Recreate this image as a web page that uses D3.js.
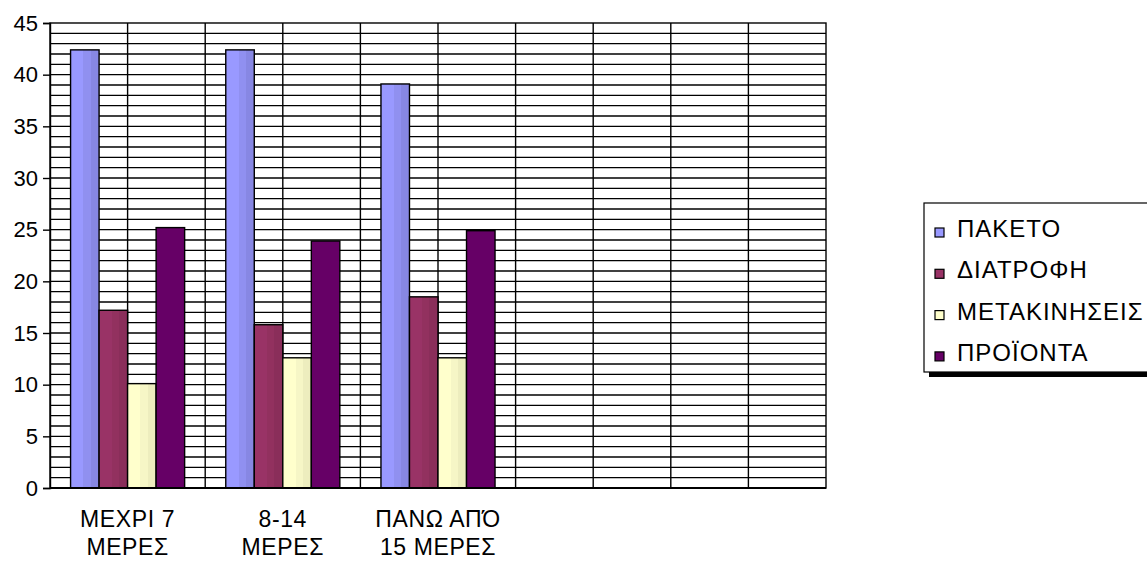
<!DOCTYPE html>
<html>
<head>
<meta charset="utf-8">
<script src="https://cdn.jsdelivr.net/npm/d3@7"></script>
<style>
  body { margin: 0; background: #fff; }
  svg { display: block; font-family: "Liberation Sans", Arial, sans-serif; }
</style>
</head>
<body>
<div id="chart-container"></div>
<script>
// Data
const categories = [["ΜΕΧΡΙ 7", "ΜΕΡΕΣ"], ["8-14", "ΜΕΡΕΣ"], ["ΠΑΝΩ ΑΠΌ", "15 ΜΕΡΕΣ"], [], []];
const seriesNames = ["ΠΑΚΕΤΟ", "ΔΙΑΤΡΟΦΗ", "ΜΕΤΑΚΙΝΗΣΕΙΣ", "ΠΡΟΪΟΝΤΑ"];
const paketo      = [42.4, 42.4, 39.1];
const diatrofi    = [17.2, 15.8, 18.5];
const metakiniseis = [10.1, 12.6, 12.6];
const proionta    = [25.2, 23.9, 24.9];
const yTicks = [0, 5, 10, 15, 20, 25, 30, 35, 40, 45];

const series = [paketo, diatrofi, metakiniseis, proionta];
const colors = [
  ["#9999ff", "#9090f0", "#8787e3"],
  ["#993366", "#92315f", "#8a2e5a"],
  ["#ffffcc", "#f6f6c6", "#ededbe"],
  ["#660066", "#660066", "#660066"]
];

// Set dimensions and margins for the chart
const margin = {top: 23, right: 321, bottom: 73, left: 50};
const width = 1147 - margin.left - margin.right;
const height = 561 - margin.top - margin.bottom;

const svg = d3.select("#chart-container")
  .append("svg")
    .attr("width", 1147)
    .attr("height", 561);

// gradients for the shaded bars
const defs = svg.append("defs");
colors.forEach((c, i) => {
  const g = defs.append("linearGradient").attr("id", "grad" + i)
    .attr("x1", "0%").attr("x2", "100%").attr("y1", "0%").attr("y2", "0%");
  [[0, c[0]], [0.45, c[0]], [0.45, c[1]], [0.7, c[1]], [0.7, c[2]], [1, c[2]]]
    .forEach(s => g.append("stop").attr("offset", s[0]).attr("stop-color", s[1]));
});

const plot = svg.append("g")
  .attr("transform", `translate(${margin.left},${margin.top})`);

// scales
const x0 = d3.scaleBand()
  .domain(d3.range(categories.length))
  .range([0, width])
  .paddingInner(0.265)
  .paddingOuter(0.1325);

const x1 = d3.scaleBand()
  .domain(d3.range(series.length))
  .range([0, x0.bandwidth()]);

const xGrid = d3.scaleLinear()
  .domain([0, categories.length])
  .range([0, width]);

const y = d3.scaleLinear()
  .domain([0, 45])
  .range([height, 0]);

// horizontal gridlines every 1
plot.selectAll(".yGrid")
  .data(d3.range(1, 45))
  .join("line")
  .attr("x1", 0).attr("x2", width)
  .attr("y1", d => y(d)).attr("y2", d => y(d))
  .attr("stroke", "#000")
  .attr("stroke-width", 1.4);

// vertical gridlines every half category
plot.selectAll(".xGrid")
  .data(d3.range(0.5, categories.length, 0.5))
  .join("line")
  .attr("x1", d => xGrid(d)).attr("x2", d => xGrid(d))
  .attr("y1", 0).attr("y2", height)
  .attr("stroke", "#000")
  .attr("stroke-width", 1.4);

// border of plot area
plot.append("rect")
  .attr("width", width).attr("height", height)
  .attr("fill", "none")
  .attr("stroke", "#000")
  .attr("stroke-width", 1.4);

// bars
const groups = plot.selectAll(".group")
  .data(d3.range(paketo.length))
  .join("g")
  .attr("transform", i => `translate(${x0(i)},0)`);

groups.selectAll("rect")
  .data(i => series.map((s, k) => ({k: k, v: s[i]})))
  .join("rect")
  .attr("x", d => x1(d.k))
  .attr("y", d => y(d.v))
  .attr("width", x1.bandwidth())
  .attr("height", d => height - y(d.v))
  .attr("fill", d => `url(#grad${d.k})`)
  .attr("stroke", "#000")
  .attr("stroke-width", 1.4);

// y axis
const yAxis = d3.axisLeft(y)
  .tickValues(yTicks)
  .tickSize(7)
  .tickPadding(5);

const yg = plot.append("g").call(yAxis);
yg.select(".domain").attr("stroke-width", 1.4);
yg.selectAll(".tick line").attr("stroke-width", 1.4);
yg.selectAll("text")
  .attr("font-size", 22)
  .attr("font-family", "Liberation Sans, Arial, sans-serif")
  .attr("fill", "#000");

// x axis
plot.append("line")
  .attr("x1", 0).attr("x2", width)
  .attr("y1", height).attr("y2", height)
  .attr("stroke", "#000")
  .attr("stroke-width", 2);

const labels = plot.selectAll(".xlabel")
  .data(categories)
  .join("text")
  .attr("text-anchor", "middle")
  .attr("font-size", 23)
  .attr("letter-spacing", 0.6)
  .attr("transform", (d, i) => `translate(${x0(i) + x0.bandwidth() / 2},${height})`);

labels.selectAll("tspan")
  .data(d => d)
  .join("tspan")
  .attr("x", 0)
  .attr("y", (d, j) => 39 + j * 28)
  .text(d => d);

// legend
const legend = svg.append("g").attr("transform", "translate(924,203)");
legend.append("rect")
  .attr("x", 5).attr("y", 5)
  .attr("width", 240).attr("height", 169)
  .attr("fill", "#000");
legend.append("rect")
  .attr("width", 240).attr("height", 169)
  .attr("fill", "#fff")
  .attr("stroke", "#000")
  .attr("stroke-width", 1.2);

const items = legend.selectAll(".item")
  .data(seriesNames)
  .join("g")
  .attr("transform", (d, i) => `translate(0,${34 + i * 41.3})`);

items.append("rect")
  .attr("x", 11).attr("y", -9)
  .attr("width", 9).attr("height", 9)
  .attr("fill", (d, i) => colors[i][0])
  .attr("stroke", "#000")
  .attr("stroke-width", 1.2);

items.append("text")
  .attr("x", 33)
  .attr("font-size", 24)
  .attr("letter-spacing", 1)
  .text(d => d);
</script>
</body>
</html>
